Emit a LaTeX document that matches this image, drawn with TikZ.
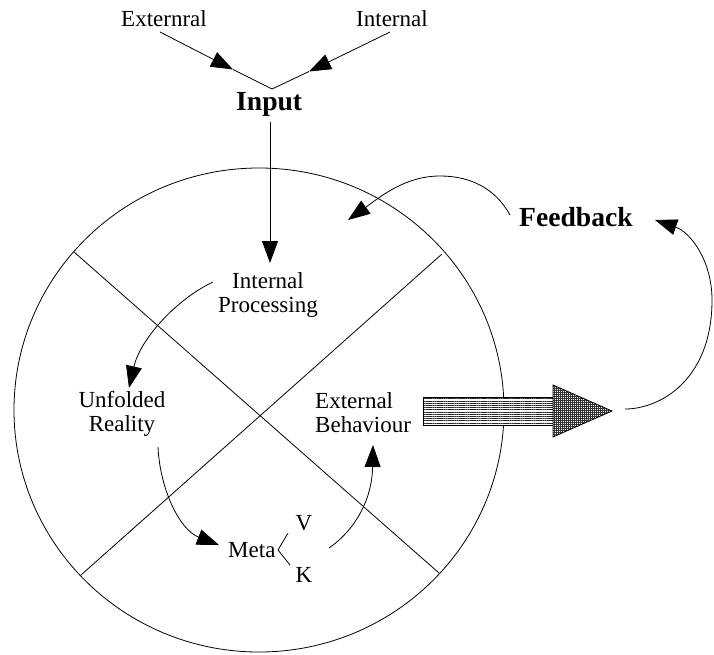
\documentclass[tikz,border=0pt]{standalone}
\usepackage{fontspec}
\setmainfont{Liberation Serif}
\usetikzlibrary{arrows.meta,patterns.meta}
\tikzset{
  lbl/.style={inner sep=0pt, font=\fontsize{23}{24}\selectfont},
  blbl/.style={inner sep=0pt, font=\fontsize{27.6}{30}\selectfont\bfseries},
  thin line/.style={line width=0.8pt},
  tip/.style={thin line, -{Triangle[length=22pt,width=16pt]}},
}
\begin{document}
\begin{tikzpicture}[x=1pt,y=-1pt]
\useasboundingbox (0,0) rectangle (714,654);
% circle and diagonals
\draw[thin line] (259,410) ellipse [x radius=245pt, y radius=242pt];
\coordinate (d1a) at (74,252);
\coordinate (d1b) at (439,573);
\coordinate (d2a) at (442,254);
\coordinate (d2b) at (81,575);
\draw[thin line] (d1a) -- (d1b);
\draw[thin line] (d2a) -- (d2b);
% texts
\node[lbl, anchor=base west] (ext) at (121,26) {Externral};
\node[lbl, anchor=base west] (int) at (356,26) {Internal};
\node[blbl, anchor=base west] (input) at (236,110) {Input};
\node[blbl, anchor=base west] (fb) at (519,226) {Feedback};
\node[lbl, anchor=base] (ip) at (268,288) {\begin{tabular}[t]{@{}c@{}}Internal\\Processing\end{tabular}};
\node[lbl, anchor=base] (ur) at (122,407) {\begin{tabular}[t]{@{}c@{}}Unfolded\\Reality\end{tabular}};
\node[lbl, anchor=base west] (eb) at (315,408) {\begin{tabular}[t]{@{}l@{}}External\\Behaviour\end{tabular}};
\node[lbl, anchor=base west] (meta) at (228,557) {Meta};
\node[lbl, anchor=base] (v) at (304,530) {V};
\node[lbl, anchor=base] (k) at (304,582) {K};
% input arrows
\coordinate (e1) at (160,32);
\coordinate (e2) at (233,69.5);
\coordinate (vx) at (272,89);
\coordinate (i1) at (390,32);
\coordinate (i2) at (309,71.5);
\draw[tip] (e1) -- (e2);
\draw[thin line] (e2) -- (vx) -- (i2);
\draw[tip] (i1) -- (i2);
\coordinate (in1) at (270,122);
\coordinate (in2) at (270,263);
\draw[tip] (in1) -- (in2);
% internal processing -> unfolded reality
\coordinate (p1) at (213,282);
\coordinate (p2) at (129,388);
\draw[tip] (p1) .. controls (175,300) and (140,340) .. (p2);
% unfolded reality -> meta
\coordinate (u1) at (158,447);
\coordinate (u2) at (219,545);
\draw[tip] (u1) .. controls (160,490) and (180,530) .. (u2);
% meta bracket
\coordinate (b1) at (288,533);
\coordinate (b2) at (278,550);
\coordinate (b3) at (290,565);
\draw[thin line] (b1) -- (b2) -- (b3);
% meta -> external behaviour
\coordinate (m1) at (329,548);
\coordinate (m2) at (373,445);
\draw[tip] (m1) .. controls (355,530) and (372,500) .. (m2);
% big arrow
\fill[white] (423,397) rectangle (553,425);
\draw[thin line, pattern={Lines[distance=2.2pt, line width=0.9pt]}, pattern color=black!85] (423,397) rectangle (553,425);
\fill[white] (553,385) -- (612,411) -- (553,437) -- cycle;
\draw[thin line, pattern={Hatch[distance=2pt, line width=0.6pt]}, pattern color=black!80] (553,385) -- (612,411) -- (553,437) -- cycle;
% feedback loops
\coordinate (f1) at (510,215);
\coordinate (f2) at (440,176);
\coordinate (f3) at (348,220);
\draw[tip] (f1) .. controls (495,188) and (470,176) .. (f2) .. controls (405,176) and (380,197) .. (f3);
\coordinate (g1) at (625,409);
\coordinate (g2) at (712,300);
\coordinate (g3) at (655,220);
\draw[tip] (g1) .. controls (660,409) and (712,380) .. (g2) .. controls (712,260) and (690,232) .. (g3);
\end{tikzpicture}
\end{document}
